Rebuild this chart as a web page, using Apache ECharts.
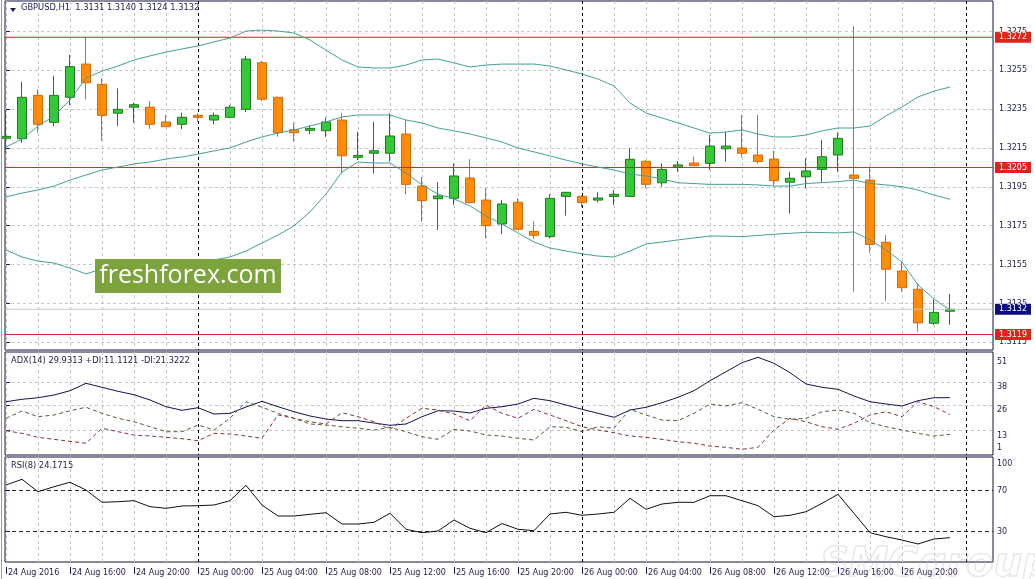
<!DOCTYPE html>
<html><head><meta charset="utf-8">
<script src="https://cdn.jsdelivr.net/npm/echarts@6.0.0/dist/echarts.min.js"></script>
<style>html,body{margin:0;padding:0;background:#fff}#c{width:1035px;height:579px}</style>
</head><body><div id="c"></div>
<script>
// ---- data (GBPUSD H1, 24 Aug 12:00 .. 26 Aug 23:00) ----
const opens = [1.32200,1.32198,1.32421,1.32282,1.32411,1.32582,1.32478,1.32329,1.32360,1.32360,1.32284,1.32272,1.32318,1.32294,1.32308,1.32349,1.32589,1.32411,1.32244,1.32241,1.32239,1.32294,1.32102,1.32123,1.32123,1.32222,1.31954,1.31889,1.31891,1.31996,1.31882,1.31759,1.31871,1.31721,1.31694,1.31901,1.31901,1.31882,1.31901,1.31901,1.32082,1.31971,1.32051,1.32073,1.32071,1.32146,1.32150,1.32114,1.32093,1.31974,1.32002,1.32040,1.32114,1.32011,1.31985,1.31665,1.31517,1.31423,1.31248,1.31310];
const highs = [1.32346,1.32491,1.32452,1.32522,1.32629,1.32721,1.32509,1.32457,1.32383,1.32392,1.32320,1.32332,1.32329,1.32332,1.32371,1.32624,1.32598,1.32413,1.32280,1.32268,1.32308,1.32329,1.32234,1.32285,1.32329,1.32294,1.31999,1.31974,1.32071,1.32093,1.31943,1.31882,1.31891,1.31774,1.31912,1.31923,1.31908,1.31922,1.31934,1.32149,1.32087,1.32071,1.32083,1.32105,1.32217,1.32234,1.32320,1.32320,1.32135,1.32028,1.32097,1.32191,1.32231,1.32778,1.32054,1.31702,1.31565,1.31454,1.31371,1.31400];
const lows = [1.32124,1.32177,1.32229,1.32263,1.32371,1.32401,1.32188,1.32263,1.32280,1.32248,1.32258,1.32248,1.32285,1.32272,1.32303,1.32335,1.32392,1.32208,1.32183,1.32222,1.32208,1.32020,1.32088,1.32020,1.32080,1.31912,1.31771,1.31728,1.31857,1.31865,1.31685,1.31707,1.31728,1.31683,1.31685,1.31802,1.31845,1.31869,1.31857,1.31898,1.31943,1.31951,1.32028,1.32057,1.32037,1.32080,1.32102,1.32071,1.31956,1.31814,1.31943,1.31971,1.32028,1.31410,1.31611,1.31364,1.31410,1.31205,1.31239,1.31240];
const closes = [1.32210,1.32411,1.32272,1.32421,1.32569,1.32486,1.32318,1.32349,1.32373,1.32272,1.32260,1.32308,1.32308,1.32318,1.32360,1.32608,1.32401,1.32229,1.32229,1.32251,1.32284,1.32110,1.32112,1.32136,1.32212,1.31963,1.31879,1.31903,1.32006,1.31869,1.31750,1.31862,1.31732,1.31701,1.31891,1.31922,1.31869,1.31893,1.31912,1.32092,1.31963,1.32040,1.32063,1.32059,1.32160,1.32160,1.32123,1.32080,1.31982,1.31994,1.32032,1.32105,1.32200,1.31994,1.31654,1.31526,1.31431,1.31250,1.31304,1.31320];

const bbUpper = [1.32155,1.32196,1.32263,1.32315,1.32397,1.32510,1.32546,1.32572,1.32603,1.32624,1.32644,1.32660,1.32675,1.32696,1.32716,1.32752,1.32757,1.32752,1.32742,1.32706,1.32654,1.32603,1.32567,1.32562,1.32562,1.32577,1.32603,1.32608,1.32588,1.32567,1.32577,1.32582,1.32582,1.32582,1.32572,1.32552,1.32531,1.32505,1.32469,1.32382,1.32330,1.32305,1.32279,1.32253,1.32227,1.32232,1.32243,1.32222,1.32207,1.32207,1.32217,1.32238,1.32253,1.32253,1.32263,1.32315,1.32361,1.32413,1.32443,1.32464];
const bbMiddle = [1.31898,1.31918,1.31934,1.31954,1.31985,1.32011,1.32037,1.32052,1.32068,1.32078,1.32093,1.32104,1.32119,1.32135,1.32150,1.32181,1.32207,1.32227,1.32243,1.32263,1.32284,1.32310,1.32320,1.32320,1.32320,1.32294,1.32279,1.32253,1.32238,1.32222,1.32202,1.32181,1.32150,1.32130,1.32109,1.32088,1.32068,1.32052,1.32037,1.32016,1.32006,1.31991,1.31971,1.31967,1.31963,1.31963,1.31963,1.31960,1.31954,1.31954,1.31967,1.31972,1.31977,1.31985,1.31968,1.31960,1.31951,1.31934,1.31908,1.31886];
const bbLower = [1.31625,1.31589,1.31568,1.31558,1.31532,1.31502,1.31528,1.31532,1.31533,1.31532,1.31542,1.31548,1.31563,1.31574,1.31589,1.31620,1.31661,1.31702,1.31749,1.31821,1.31913,1.32027,1.32078,1.32073,1.32073,1.32021,1.31960,1.31913,1.31888,1.31852,1.31800,1.31759,1.31713,1.31666,1.31635,1.31620,1.31605,1.31594,1.31589,1.31620,1.31656,1.31666,1.31677,1.31687,1.31697,1.31696,1.31694,1.31700,1.31706,1.31711,1.31716,1.31715,1.31713,1.31718,1.31677,1.31625,1.31563,1.31445,1.31373,1.31316];

const adx = [27.88,29.11,29.93,31.31,33.52,37.31,35.26,33.21,31.47,28.75,25.31,23.47,24.80,21.57,21.93,25.16,28.08,25.31,22.75,20.55,19.01,18.14,18.14,16.96,15.78,16.44,20.19,23.26,23.11,22.08,24.49,25.31,26.70,29.62,28.39,26.19,23.98,21.93,19.88,23.62,25.01,27.37,30.14,33.52,38.65,43.26,47.88,50.65,47.57,42.75,36.96,35.26,34.24,30.80,27.88,26.70,25.67,28.39,29.93,29.93];
const plusDI = [19.37,23.11,20.19,21.06,23.26,25.01,21.93,19.37,17.62,15.06,12.49,12.49,15.93,13.37,19.37,27.88,25.01,21.93,19.37,16.44,15.93,15.06,14.24,13.37,14.75,12.49,9.93,8.60,13.73,12.85,10.80,10.29,9.11,8.24,15.06,14.75,12.49,15.06,14.24,23.98,21.06,18.49,18.14,21.93,26.70,25.67,27.37,23.98,20.19,18.85,19.37,22.75,23.62,21.93,17.11,15.06,13.37,11.67,10.29,11.11];
const minusDI = [13.01,11.67,9.62,8.60,7.57,6.55,14.24,12.49,10.80,10.29,9.62,8.91,7.88,11.67,11.32,10.29,9.11,21.06,19.37,17.62,16.44,22.24,20.19,17.62,13.73,19.37,24.49,23.62,21.57,18.14,26.19,21.93,19.37,23.98,21.06,18.14,15.06,13.37,11.98,10.29,9.62,8.60,7.37,6.55,5.16,4.50,3.47,4.50,13.37,19.37,17.62,15.06,13.73,16.80,21.06,22.75,20.19,27.88,25.31,21.32];
const rsi = [75.56,81.12,69.02,73.90,78.20,70.68,58.68,59.27,60.24,54.39,52.83,55.07,55.37,56.05,60.24,75.27,56.05,45.32,45.32,46.98,48.54,37.51,37.51,39.17,47.95,32.34,29.02,30.68,41.41,33.32,29.02,38.00,32.34,30.98,47.27,48.93,46.00,47.27,48.93,62.59,51.85,57.02,58.68,58.68,65.12,65.12,60.24,55.37,44.63,46.00,49.51,57.71,66.49,47.95,29.02,25.12,21.90,18.00,22.88,24.17];

const priceTicks = [1.3115,1.3135,1.3155,1.3175,1.3195,1.3215,1.3235,1.3255,1.3275];
const levelLines = [1.3272,1.3205,1.3119];
const bidPrice = 1.3132;
const timeLabels = ['24 Aug 2016','24 Aug 16:00','24 Aug 20:00','25 Aug 00:00','25 Aug 04:00','25 Aug 08:00','25 Aug 12:00','25 Aug 16:00','25 Aug 20:00','26 Aug 00:00','26 Aug 04:00','26 Aug 08:00','26 Aug 12:00','26 Aug 16:00','26 Aug 20:00'];
const timeLabelBars = [0,4,8,12,16,20,24,28,32,36,40,44,48,52,56];
const gridBars = [0,2,4,6,8,10,12,14,16,18,20,22,24,26,28,30,32,34,36,38,40,42,44,46,48,50,52,54,56,58,60];
const daySeparatorBars = [12,36,60];
const adxLabels = [51,38,26,13,1];
const adxGrid = [38,26,13];
const rsiLabels = [100,70,30,0];
const rsiLevels = [70,30];

// ---- chart ----
const FONT = '"DejaVu Sans", Verdana, sans-serif';
const TXT = '#1e1e4e';
const XMIN = -0.0625, XMAX = 61.6875;
const candleRows = opens.map((o,i)=>[i,o,closes[i],lows[i],highs[i]]);
const pairs = arr => arr.map((v,i)=>[i,v]);

function gridX(gi){return {type:'value',gridIndex:gi,min:XMIN,max:XMAX,axisLine:{show:false},
  axisTick:{show:false,customValues:gridBars},axisLabel:{show:false},
  splitLine:{show:true,lineStyle:{color:'#c6c6c6',type:[3,3],width:1}}};}
function sepX(gi){return {type:'value',gridIndex:gi,min:XMIN,max:XMAX,axisLine:{show:false},
  axisTick:{show:false,customValues:daySeparatorBars},axisLabel:{show:false},
  splitLine:{show:true,lineStyle:{color:'#000',type:[3,3],width:1}}};}

function levelSeries(v,lineColor,bg){
  return {type:'line',xAxisIndex:0,yAxisIndex:0,data:[[XMIN,v],[XMAX,v]],showSymbol:false,symbol:'none',
    silent:true,clip:false,lineStyle:{color:lineColor,width:1,type:'solid'},
    endLabel:{show:true,distance:2,backgroundColor:bg,color:'#fff',padding:[1,4,1,4],fontSize:8,lineHeight:9,
      fontFamily:FONT,formatter:()=>v.toFixed(4)}};
}

const chart = echarts.init(document.getElementById('c'),null,{renderer:'canvas'});

chart.setOption({
  animation:false,
  backgroundColor:'#fff',
  grid:[
    {left:5,top:1,width:988,height:349,show:true,borderColor:'#10103c',borderWidth:1},
    {left:5,top:352,width:988,height:103,show:true,borderColor:'#10103c',borderWidth:1},
    {left:5,top:457,width:988,height:105,show:true,borderColor:'#10103c',borderWidth:1}
  ],
  xAxis:[gridX(0),gridX(1),gridX(2),sepX(0),sepX(1),sepX(2),
    {type:'value',gridIndex:2,min:XMIN,max:XMAX,position:'bottom',offset:5,axisLine:{show:false},
     axisTick:{show:true,customValues:timeLabelBars,length:7,lineStyle:{color:TXT}},
     axisLabel:{customValues:timeLabelBars,formatter:v=>timeLabels[timeLabelBars.indexOf(v)],
       align:'left',margin:0,padding:[1,0,0,2],fontSize:8,lineHeight:9,color:TXT,fontFamily:FONT},
     splitLine:{show:false}}
  ],
  yAxis:[
    {type:'value',gridIndex:0,position:'right',min:1.311104,max:1.329067,
     axisLine:{show:false},
     axisTick:{show:true,customValues:priceTicks,length:4,lineStyle:{color:TXT}},
     axisLabel:{customValues:priceTicks,formatter:v=>v.toFixed(4),margin:6,fontSize:8,color:TXT,fontFamily:FONT},
     splitLine:{show:true,lineStyle:{color:'#c6c6c6',type:[3,3],width:1}}},
    {type:'value',gridIndex:1,position:'right',min:0.55,max:53.37,
     axisLine:{show:false},
     axisTick:{show:true,customValues:adxGrid,length:4,lineStyle:{color:TXT}},
     axisLabel:{customValues:adxLabels,margin:4,
       formatter:v=> v===1 ? '{b|'+v+'}' : '{t|'+v+'}',
       rich:{t:{padding:[10,0,0,0],fontSize:8,color:TXT,fontFamily:FONT},
             b:{padding:[0,0,12,0],fontSize:8,color:TXT,fontFamily:FONT}}},
     splitLine:{show:true,lineStyle:{color:'#c6c6c6',type:[3,3],width:1}}},
    {type:'value',gridIndex:2,position:'right',min:0.44,max:102.88,
     axisLine:{show:false},
     axisTick:{show:true,customValues:rsiLevels,length:4,lineStyle:{color:TXT}},
     axisLabel:{customValues:rsiLabels,margin:4,
       formatter:v=> v===100 ? '{t|'+v+'}' : (v===0 ? '{b|'+v+'}' : '{m|'+v+'}'),
       rich:{t:{padding:[8,0,0,0],fontSize:8,color:TXT,fontFamily:FONT},
             b:{padding:[0,0,12,0],fontSize:8,color:TXT,fontFamily:FONT},
             m:{fontSize:8,color:TXT,fontFamily:FONT}}},
     splitLine:{show:true,lineStyle:{color:'#2a2a3a',type:[4,3],width:1}}}
  ],
  series:[
    levelSeries(bidPrice,'#c4c4c4','#0c0c7e'),
    {type:'candlestick',xAxisIndex:0,yAxisIndex:0,data:candleRows,
     dimensions:['bar','open','close','lowest','highest'],encode:{x:0,y:[1,2,3,4]},
     barWidth:9,
     itemStyle:{color:'#35c935',color0:'#ff8c0a',borderColor:'#1f7a1f',borderColor0:'#d5680a',borderWidth:1}},
    ...levelLines.map(v=>levelSeries(v,'#d42020','#e3231b')),
    {type:'line',xAxisIndex:0,yAxisIndex:0,data:pairs(bbUpper),showSymbol:false,lineStyle:{color:'#45a096',width:1}},
    {type:'line',xAxisIndex:0,yAxisIndex:0,data:pairs(bbMiddle),showSymbol:false,lineStyle:{color:'#45a096',width:1}},
    {type:'line',xAxisIndex:0,yAxisIndex:0,data:pairs(bbLower),showSymbol:false,lineStyle:{color:'#45a096',width:1}},
    {type:'line',xAxisIndex:1,yAxisIndex:1,data:pairs(adx),showSymbol:false,lineStyle:{color:'#14144e',width:1}},
    {type:'line',xAxisIndex:1,yAxisIndex:1,data:pairs(plusDI),showSymbol:false,lineStyle:{color:'#46663a',width:1,type:[4,3]}},
    {type:'line',xAxisIndex:1,yAxisIndex:1,data:pairs(minusDI),showSymbol:false,lineStyle:{color:'#8a3434',width:1,type:[4,3]}},
    {type:'line',xAxisIndex:2,yAxisIndex:2,data:pairs(rsi),showSymbol:false,lineStyle:{color:'#111',width:1}}
  ],
  graphic:[
    {type:'line',shape:{x1:1.5,y1:0,x2:1.5,y2:579},style:{stroke:'#9a9aa6',lineWidth:1},z:50},
    {type:'polygon',shape:{points:[[10,8],[16,8],[13,12]]},style:{fill:TXT},z:60},
    {type:'text',left:21,top:4,z:60,style:{text:'GBPUSD,H1  1.3131 1.3140 1.3124 1.3132',font:'8.3px '+FONT,fill:TXT}},
    {type:'text',left:11,top:357,z:60,style:{text:'ADX(14) 29.9313 +DI:11.1121 -DI:21.3222',font:'8.3px '+FONT,fill:TXT}},
    {type:'text',left:11,top:462,z:60,style:{text:'RSI(8) 24.1715',font:'8.3px '+FONT,fill:TXT}},
    {type:'rect',shape:{x:95,y:259,width:186,height:34},style:{fill:'#7da33d'},z:70},
    {type:'text',x:188,y:276,z:71,style:{text:'freshforex.com',font:'25px "Open Sans"',fill:'#fff',align:'center',verticalAlign:'middle'}},
    {type:'text',x:820,y:546,z:1,style:{text:'SMCgroup',font:'italic bold 40px '+FONT,fill:'rgba(0,0,0,0)',stroke:'rgba(190,190,200,0.35)',lineWidth:1.5}}
  ]
});
</script></body></html>
